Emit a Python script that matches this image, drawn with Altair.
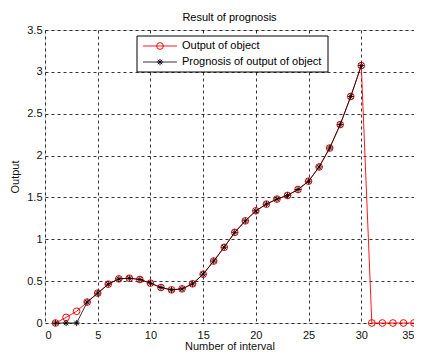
import altair as alt
import pandas as pd

# Data
x_out = list(range(1, 36))
y_out = [0, 0.067, 0.14, 0.25, 0.357, 0.464, 0.527, 0.535, 0.52, 0.476,
         0.424, 0.396, 0.408, 0.468, 0.583, 0.74, 0.905, 1.083, 1.22, 1.34,
         1.42, 1.48, 1.524, 1.595, 1.694, 1.864, 2.09, 2.37, 2.706, 3.075,
         0, 0, 0, 0, 0]
x_prog = list(range(1, 31))
y_prog = [0, 0, 0, 0.25, 0.357, 0.464, 0.527, 0.535, 0.52, 0.476,
          0.424, 0.396, 0.408, 0.468, 0.583, 0.74, 0.905, 1.083, 1.22, 1.34,
          1.42, 1.48, 1.524, 1.595, 1.694, 1.864, 2.09, 2.37, 2.706, 3.075]
legend_labels = ["Output of object", "Prognosis of output of object"]
x_ticks = [0, 5, 10, 15, 20, 25, 30, 35]
y_ticks = [0, 0.5, 1, 1.5, 2, 2.5, 3, 3.5]

FONT = "Liberation Sans"
STAR = "M-1,0L1,0M0,-1L0,1M-0.7,-0.7L0.7,0.7M-0.7,0.7L0.7,-0.7"

df_out = pd.DataFrame({"x": x_out, "y": y_out})
df_prog = pd.DataFrame({"x": x_prog, "y": y_prog})

xs = alt.Scale(domain=[0, 35], nice=False, zero=False)
ys = alt.Scale(domain=[0, 3.5], nice=False, zero=False)

xenc = alt.X("x:Q", scale=xs,
             axis=alt.Axis(values=x_ticks, title="Number of interval", format="~g",
                           grid=True, gridDash=[3, 3], gridColor="black", gridOpacity=1,
                           gridWidth=0.8, ticks=False, domain=False, labelPadding=6,
                           labelFontSize=11, titleFontSize=11, titleFontWeight="normal",
                           titlePadding=0, labelFont=FONT, titleFont=FONT,
                           labelColor="#111", titleColor="#111"))
yenc = alt.Y("y:Q", scale=ys,
             axis=alt.Axis(values=y_ticks, title="Output", format="~g",
                           grid=True, gridDash=[3, 3], gridColor="black", gridOpacity=1,
                           gridWidth=0.8, ticks=False, domain=False, labelPadding=3,
                           labelFontSize=11, titleFontSize=11, titleFontWeight="normal",
                           titlePadding=6, labelFont=FONT, titleFont=FONT,
                           labelColor="#111", titleColor="#111"))

red_line = alt.Chart(df_out).mark_line(color="red", strokeWidth=0.9).encode(x=xenc, y=yenc)
red_pts = alt.Chart(df_out).mark_point(color="red", filled=False, size=45, strokeWidth=1,
                                       opacity=1).encode(x="x:Q", y="y:Q")
blk_line = alt.Chart(df_prog).mark_line(color="black", strokeWidth=0.8).encode(x="x:Q", y="y:Q")
blk_pts = alt.Chart(df_prog).mark_point(color="black", filled=False, shape=STAR, size=40,
                                        strokeWidth=0.9, opacity=1).encode(x="x:Q", y="y:Q")

# Manual MATLAB-style legend
one = pd.DataFrame({"k": [0]})
leg_box = alt.Chart(one).mark_rect(fill="white", stroke="black", strokeWidth=1).encode(
    x=alt.value(92), x2=alt.value(283), y=alt.value(6), y2=alt.value(42))
leg_l1 = alt.Chart(one).mark_rule(color="red", strokeWidth=0.9).encode(
    x=alt.value(98), x2=alt.value(132), y=alt.value(16))
leg_l2 = alt.Chart(one).mark_rule(color="black", strokeWidth=0.8).encode(
    x=alt.value(98), x2=alt.value(132), y=alt.value(32))
leg_p1 = alt.Chart(one).mark_point(color="red", filled=False, size=45, strokeWidth=1,
                                   opacity=1).encode(x=alt.value(115), y=alt.value(16))
leg_p2 = alt.Chart(one).mark_point(color="black", filled=False, shape=STAR, size=40,
                                   strokeWidth=0.9, opacity=1).encode(x=alt.value(115), y=alt.value(32))
leg_t1 = alt.Chart(one).mark_text(text=legend_labels[0], align="left", baseline="middle",
                                  font=FONT, fontSize=11, color="black").encode(
    x=alt.value(137), y=alt.value(16))
leg_t2 = alt.Chart(one).mark_text(text=legend_labels[1], align="left", baseline="middle",
                                  font=FONT, fontSize=11, color="black").encode(
    x=alt.value(137), y=alt.value(32))

chart = alt.layer(
    red_line, red_pts, blk_line, blk_pts,
    leg_box, leg_l1, leg_l2, leg_p1, leg_p2, leg_t1, leg_t2
).properties(
    width=369, height=293,
    title=alt.TitleParams("Result of prognosis", fontSize=11, fontWeight="normal",
                          font=FONT, color="black", offset=1),
    autosize=alt.AutoSizeParams(type="none"),
    padding={"left": 37, "top": 22, "right": 0, "bottom": 30},
).configure_view(stroke="black", strokeWidth=1).configure(background="white")

chart.save("out.html", embed_options={"renderer": "svg", "actions": False})
